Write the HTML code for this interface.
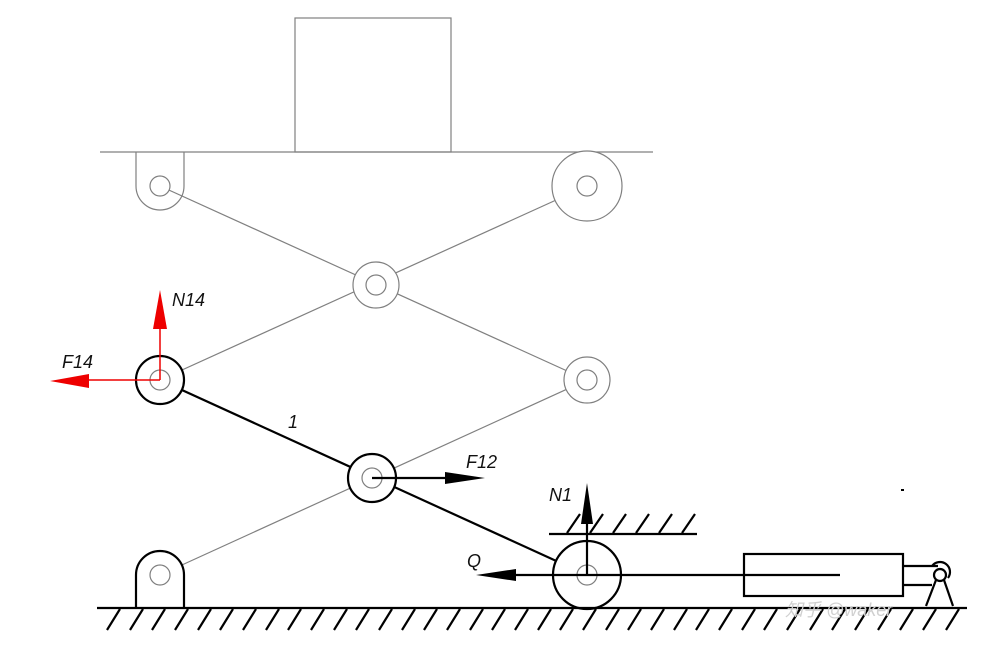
<!DOCTYPE html>
<html><head><meta charset="utf-8"><style>
html,body{margin:0;padding:0;background:#fff;width:990px;height:646px;overflow:hidden}
svg{display:block}
text{font-family:"Liberation Sans",sans-serif;font-style:italic;font-size:18px;fill:#111}
</style></head><body>
<svg width="990" height="646" viewBox="0 0 990 646" xmlns="http://www.w3.org/2000/svg">
<rect width="990" height="646" fill="#fff"/>
<g stroke="#808080" stroke-width="1.2" fill="none">
<rect x="295" y="18" width="156" height="134"/>
<line x1="100" y1="152" x2="653" y2="152"/>
<path d="M136 152 V186 A24 24 0 0 0 184 186 V152"/>
<line x1="160" y1="186" x2="587" y2="380"/>
<line x1="587" y1="186" x2="160" y2="380"/>
<line x1="160" y1="575" x2="587" y2="380"/>
</g>
<g stroke="#808080" stroke-width="1.2" fill="#fff">
<circle cx="587" cy="186" r="35"/><circle cx="587" cy="186" r="10"/>
<circle cx="376" cy="285" r="23"/><circle cx="376" cy="285" r="10"/>
<circle cx="587" cy="380" r="23"/><circle cx="587" cy="380" r="10"/>
<circle cx="160" cy="186" r="10"/>
</g>
<line x1="160" y1="380" x2="587" y2="575" stroke="#000" stroke-width="2.2"/>
<g stroke="#000" stroke-width="2.2" fill="#fff">
<circle cx="160" cy="380" r="24"/>
<circle cx="372" cy="478" r="24"/>
<path d="M136 608 V575 A24 24 0 0 1 184 575 V608"/>
<circle cx="587" cy="575" r="34"/>
</g>
<g stroke="#808080" stroke-width="1.2" fill="none">
<circle cx="160" cy="380" r="10"/>
<circle cx="372" cy="478" r="10"/>
<circle cx="160" cy="575" r="10"/>
<circle cx="587" cy="575" r="10"/>
</g>
<g stroke="#000" stroke-width="2.2">
<line x1="97" y1="608" x2="967" y2="608"/>
<line x1="549" y1="534" x2="697" y2="534"/>
</g>
<g stroke="#000" stroke-width="2.2">
<path d="M107 630 L120 609 M130 630 L143 609 M152 630 L165 609 M175 630 L188 609 M198 630 L211 609 M220 630 L233 609 M243 630 L256 609 M266 630 L279 609 M288 630 L301 609 M311 630 L324 609 M334 630 L347 609 M356 630 L369 609 M379 630 L392 609 M402 630 L415 609 M424 630 L437 609 M447 630 L460 609 M470 630 L483 609 M492 630 L505 609 M515 630 L528 609 M538 630 L551 609 M560 630 L573 609 M583 630 L596 609 M606 630 L619 609 M628 630 L641 609 M651 630 L664 609 M674 630 L687 609 M696 630 L709 609 M719 630 L732 609 M742 630 L755 609 M764 630 L777 609 M787 630 L800 609 M810 630 L823 609 M832 630 L845 609 M855 630 L868 609 M878 630 L891 609 M900 630 L913 609 M923 630 L936 609 M946 630 L959 609"/>
<path d="M567 533 L580 514 M590 533 L603 514 M613 533 L626 514 M636 533 L649 514 M659 533 L672 514 M682 533 L695 514"/>
</g>
<g stroke="#000" stroke-width="2.2" fill="none">
<rect x="744" y="554" width="159" height="42"/>
<line x1="516" y1="575" x2="840" y2="575"/>
<line x1="903" y1="566" x2="938" y2="566"/>
<line x1="903" y1="585" x2="932" y2="585"/>
<path d="M932 566 A10 10 0 0 1 948 578"/>
<circle cx="940" cy="575" r="6"/>
<line x1="936" y1="580" x2="926" y2="606"/>
<line x1="944" y1="580" x2="953" y2="606"/>
<line x1="587" y1="575" x2="587" y2="520"/>
<line x1="372" y1="478" x2="448" y2="478"/>
</g>
<polygon points="445,472 485,478 445,484" fill="#000"/>
<polygon points="516,569 476,575 516,581" fill="#000"/>
<polygon points="587,483 581,524 593,524" fill="#000"/>
<g stroke="#e00" stroke-width="1.5">
<line x1="160" y1="380" x2="160" y2="325"/>
<line x1="160" y1="380" x2="88" y2="380"/>
</g>
<polygon points="160,290 153,329 167,329" fill="#e00"/>
<polygon points="50,381 89,374 89,388" fill="#e00"/>
<rect x="901" y="489" width="3" height="2" fill="#000"/>
<text x="172" y="306">N14</text>
<text x="62" y="368">F14</text>
<text x="288" y="428" font-size="22">1</text>
<text x="466" y="468">F12</text>
<text x="549" y="501">N1</text>
<text x="467" y="567">Q</text>
<text x="785" y="616" font-style="normal" font-size="27" fill="#d0d0d0" style="font-family:'Liberation Sans','Noto Sans CJK SC',sans-serif;fill:#d0d0d0">知乎 @waker</text>
</svg>
</body></html>
